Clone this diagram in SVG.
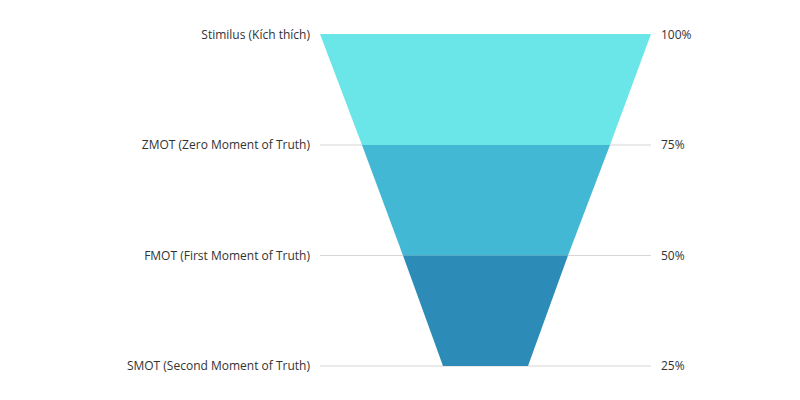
<svg xmlns="http://www.w3.org/2000/svg" width="800" height="400" viewBox="0 0 800 400">
<style>
text{font-family:"Open Sans","Liberation Sans",sans-serif;font-size:12px;fill:#333}
.l{text-anchor:end}
.g{stroke:#d6d6d6;stroke-width:1.2}
</style>
<rect width="800" height="400" fill="#fff"/>
<g id="grid">
<line class="g" x1="320" y1="145" x2="651" y2="145"/>
<line class="g" x1="320" y1="255.5" x2="651" y2="255.5"/>
<line class="g" x1="320" y1="366" x2="651" y2="366"/>
</g>
<g id="stimulus"><polygon points="320,34 651,34 610,145 362,145" fill="#6AE5E8"/><text class="l" x="310" y="39">Stimilus (Kích thích)</text><text x="661" y="39">100%</text></g>
<g id="zmot"><polygon points="362,145 610,145 568,255.5 403,255.5" fill="#42B8D4"/><text class="l" x="310" y="149">ZMOT (Zero Moment of Truth)</text><text x="661" y="149">75%</text></g>
<g id="fmot"><polygon points="403,255.5 568,255.5 528,366 443,366" fill="#2D8BB8"/><text class="l" x="310" y="260">FMOT (First Moment of Truth)</text><text x="661" y="260">50%</text></g>
<g id="smot"><text class="l" x="310" y="370">SMOT (Second Moment of Truth)</text><text x="661" y="370">25%</text></g>
</svg>
